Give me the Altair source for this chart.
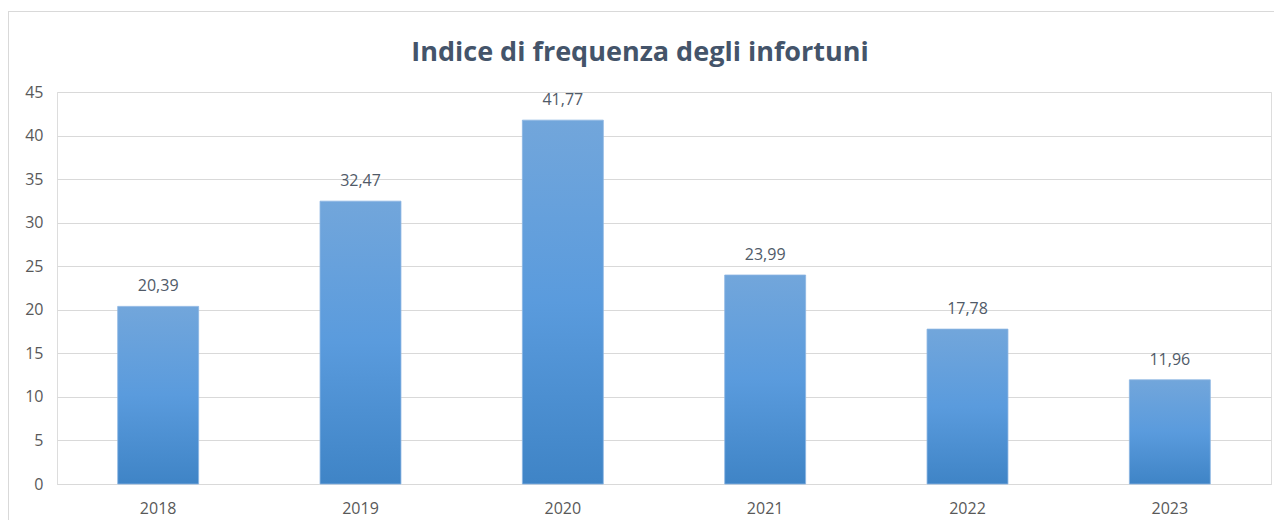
import altair as alt
import pandas as pd

years = ["2018", "2019", "2020", "2021", "2022", "2023"]
values = [20.39, 32.47, 41.77, 23.99, 17.78, 11.96]
y_ticks = [0, 5, 10, 15, 20, 25, 30, 35, 40, 45]
title_text = "Indice di frequenza degli infortuni"

df = pd.DataFrame({"anno": years, "valore": values})
df_title = pd.DataFrame({"titolo": [title_text]})

FONT = "Open Sans"
W, H = 1214, 392

x_enc = alt.X("anno:N", sort=years,
              scale=alt.Scale(paddingInner=0.6, paddingOuter=0.3),
              axis=alt.Axis(title=None, labelAngle=0, ticks=False, domain=True,
                            domainColor="#D9D9D9", labelColor="#595959",
                            labelFont=FONT, labelFontSize=16, labelPadding=16))
y_enc = alt.Y("valore:Q", scale=alt.Scale(domain=[0, 45], nice=False),
              axis=alt.Axis(title=None, values=y_ticks, ticks=False, domain=False,
                            grid=True, gridColor="#D9D9D9", gridWidth=1,
                            labelColor="#595959", labelFont=FONT, labelFontSize=16,
                            labelPadding=14))

gradient = alt.Gradient(
    gradient="linear",
    stops=[alt.GradientStop(color="#72A6DB", offset=0),
           alt.GradientStop(color="#5A9BDD", offset=0.5),
           alt.GradientStop(color="#3F84C6", offset=1)],
    x1=0, x2=0, y1=0, y2=1,
)

base = alt.Chart(df)

bars = base.mark_bar(color=gradient, stroke="#8CB5E2", strokeWidth=0.8).encode(
    x=x_enc, y=y_enc
)

labels = base.transform_calculate(
    etichetta="replace(format(datum.valore, '.2f'), '.', ',')"
).mark_text(dy=-20, font=FONT, fontSize=16, color="#505A68").encode(
    x=alt.X("anno:N", sort=years), y=alt.Y("valore:Q"), text="etichetta:N"
)

frame = base.mark_rect(fill="transparent", stroke="#D9D9D9", strokeWidth=1).encode(
    x=alt.value(-48.5), x2=alt.value(1218.5), y=alt.value(-80.5), y2=alt.value(600)
)

title = alt.Chart(df_title).mark_text(
    font=FONT, fontSize=27, fontWeight="bold", color="#44546A",
    align="center", baseline="middle"
).encode(x=alt.value(583), y=alt.value(-39), text="titolo:N")

chart = alt.layer(frame, bars, labels, title).properties(
    width=W, height=H,
    autosize=alt.AutoSizeParams(type="none"),
    padding={"left": 49, "top": 84, "right": 3, "bottom": 36},
).configure_view(stroke=None).configure(background="white")

chart.save("out.html", embed_options={"renderer": "svg", "actions": False})
